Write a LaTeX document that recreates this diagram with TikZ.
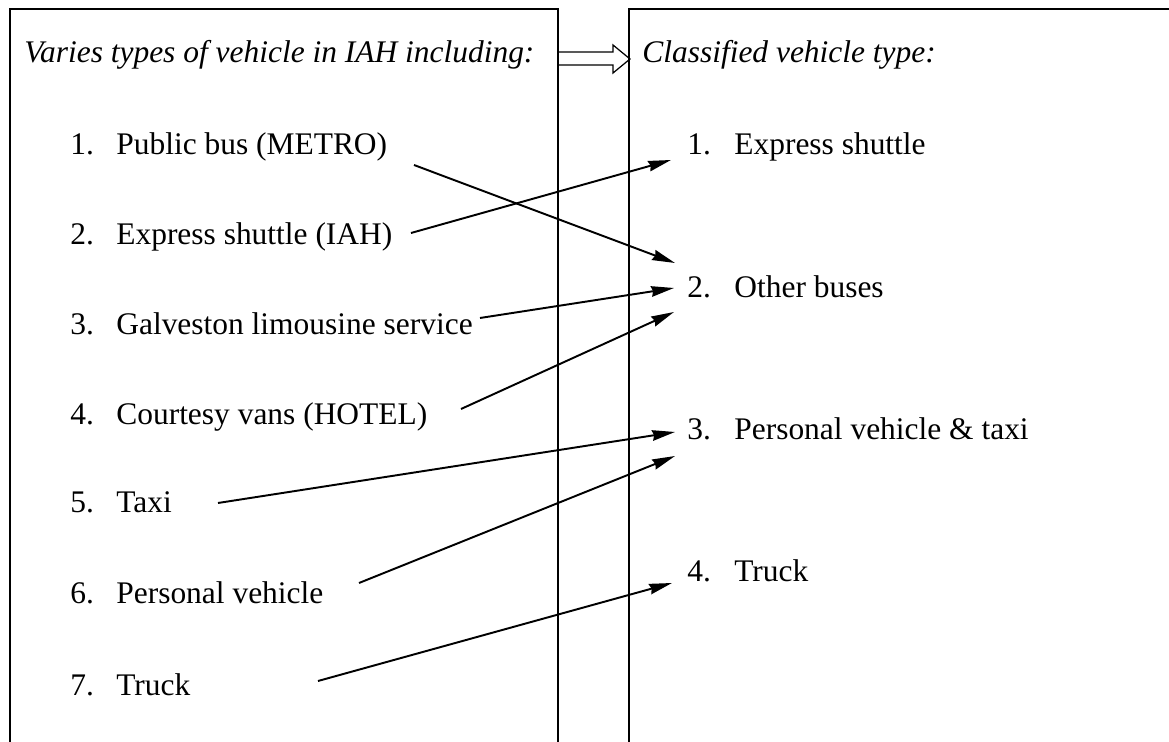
\documentclass[tikz,border=0pt]{standalone}
\usepackage{fontspec}
\setmainfont{Liberation Serif}
\usetikzlibrary{arrows.meta,positioning,calc}

\begin{document}
\begin{tikzpicture}[x=0.02cm, y=-0.02cm,
  every node/.style={font=\fontsize{17.9}{21}\selectfont, inner sep=0pt, anchor=base west},
  boxline/.style={line width=0.8pt},
  maparrow/.style={line width=1.1pt, -{Stealth[length=13pt,width=6pt,inset=1pt]}}]
  \useasboundingbox (0,0) rectangle (1169,742);
  % ---- left box: all vehicle types
  \draw[boxline] (10,750) -- (10,9) -- (558,9) -- (558,750);
  \node (lhead) at (24,63) {\textit{Varies types of vehicle in IAH including:}};
  \foreach \i/\yy/\txt in {1/155/Public bus (METRO), 2/245/Express shuttle (IAH),
                           3/335/Galveston limousine service, 4/425/Courtesy vans (HOTEL),
                           5/513/Taxi, 6/603/Personal vehicle, 7/695/Truck} {
    \node (lnum\i) at (70,\yy) {\i.};
    \node (left\i) at (116,\yy) {\txt};
  }
  % ---- right box: classified types
  \draw[boxline] (629,750) -- (629,9) -- (1175,9);
  \node (rhead) at (642,63) {\textit{Classified vehicle type:}};
  \foreach \i/\yy/\txt in {1/155/Express shuttle, 2/298/Other buses,
                           3/440/Personal vehicle \& taxi, 4/582/Truck} {
    \node (rnum\i) at (687,\yy) {\i.};
    \node (right\i) at (734,\yy) {\txt};
  }
  % ---- hollow arrow between the headers
  \draw[line width=0.7pt] (558,52) -- (613,52) -- (613,45) -- (630,59)
        -- (613,73) -- (613,65) -- (558,65);
  % ---- mapping arrows
  \foreach \i/\sx/\sy/\ex/\ey in {1/414/165/675/263, 2/411/233/671/160,
                                  3/480/318/674/288, 4/461/409/674/312,
                                  5/218/503/675/432, 6/359/583/675/456,
                                  7/318/681/672/583} {
    \coordinate (from\i) at (\sx,\sy);
    \coordinate (to\i) at (\ex,\ey);
    \draw[maparrow] (from\i) -- (to\i);
  }
\end{tikzpicture}
\end{document}
